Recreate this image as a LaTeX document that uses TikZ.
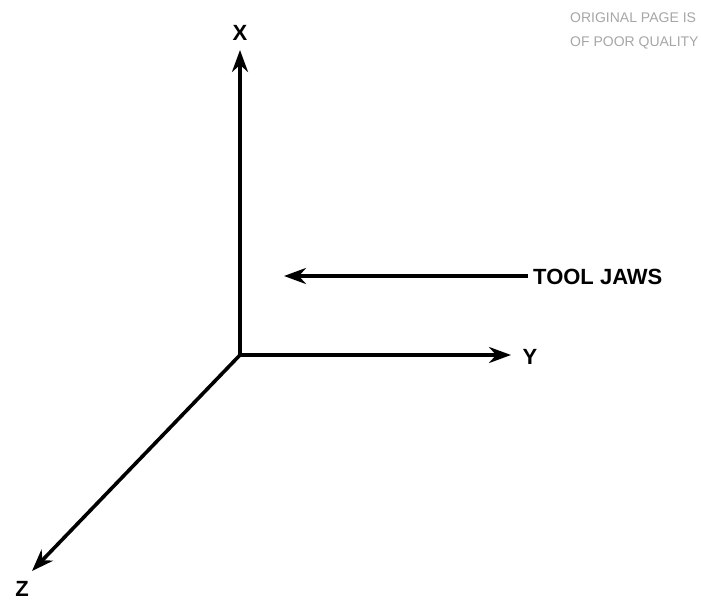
\documentclass[tikz,border=0pt]{standalone}
\usepackage{fontspec}
\setmainfont{Liberation Sans}
\usetikzlibrary{arrows.meta}
\tikzset{
  axis/.style={line width=3.6pt,-{Stealth[length=22pt,width=16pt]}},
  lbl/.style={font=\bfseries\fontsize{22}{25}\selectfont,inner sep=0pt},
  stamp/.style={font=\fontsize{14}{16}\selectfont,text=black!35,inner sep=0pt,anchor=west}
}
\begin{document}
\begin{tikzpicture}[x=1pt,y=-1pt]
\useasboundingbox (0,0) rectangle (701,602);
\coordinate (o) at (240,355);
\coordinate (xe) at (240,50);
\coordinate (ye) at (511,355);
\coordinate (ze) at (32,571);
\node[lbl] (xl) at (240,33) {X};
\node[lbl] (yl) at (530,357) {Y};
\node[lbl] (zl) at (22,589) {Z};
\node[lbl,anchor=west] (tool) at (533,277) {TOOL JAWS};
\coordinate (jaw) at (284,276);
\draw[axis] (o) -- (xe);
\draw[axis] (o) -- (ye);
\draw[axis] (o) -- (ze);
\draw[axis] (tool.west) ++(-5,-1) -- (jaw);
% faint stamp
\node[stamp] (st1) at (570,18) {ORIGINAL PAGE IS};
\node[stamp] (st2) at (570,43) {OF POOR QUALITY};
\end{tikzpicture}
\end{document}
